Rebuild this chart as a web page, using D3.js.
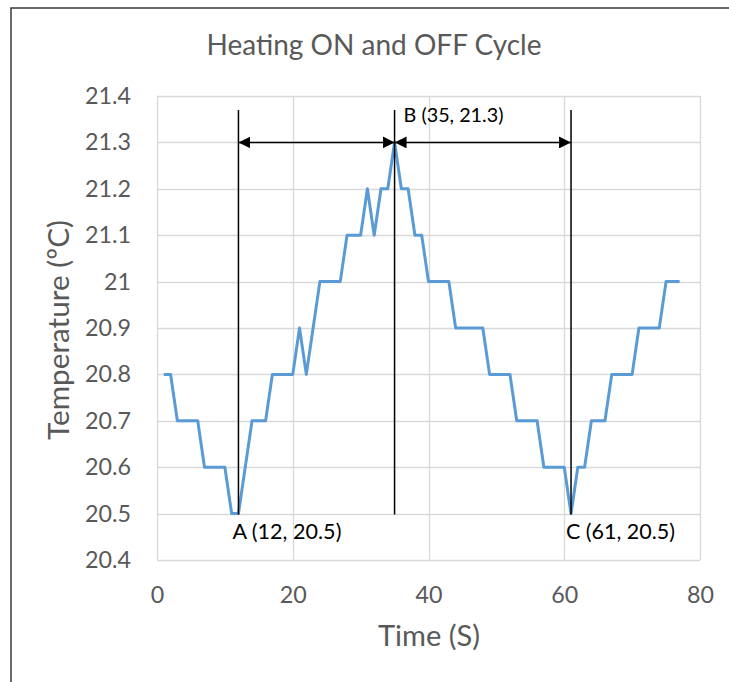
<!DOCTYPE html>
<html><head><meta charset="utf-8">
<script src="https://cdn.jsdelivr.net/npm/d3@7"></script>
<style>
html,body{margin:0;padding:0;background:#fff;}
svg{display:block;font-family:Lato,"Open Sans",sans-serif;}
</style></head>
<body>
<script>
const timeS = [1,2,3,4,5,6,7,8,9,10,11,12,13,14,15,16,17,18,19,20,21,22,23,24,25,26,27,28,29,30,31,32,33,34,35,36,37,38,39,40,41,42,43,44,45,46,47,48,49,50,51,52,53,54,55,56,57,58,59,60,61,62,63,64,65,66,67,68,69,70,71,72,73,74,75,76,77];
const tempC = [20.8,20.8,20.7,20.7,20.7,20.7,20.6,20.6,20.6,20.6,20.5,20.5,20.6,20.7,20.7,20.7,20.8,20.8,20.8,20.8,20.9,20.8,20.9,21.0,21.0,21.0,21.0,21.1,21.1,21.1,21.2,21.1,21.2,21.2,21.3,21.2,21.2,21.1,21.1,21.0,21.0,21.0,21.0,20.9,20.9,20.9,20.9,20.9,20.8,20.8,20.8,20.8,20.7,20.7,20.7,20.7,20.6,20.6,20.6,20.6,20.5,20.6,20.6,20.7,20.7,20.7,20.8,20.8,20.8,20.8,20.9,20.9,20.9,20.9,21.0,21.0,21.0];
const xTicks = [0,20,40,60,80];
const yTicks = [20.4,20.5,20.6,20.7,20.8,20.9,21.0,21.1,21.2,21.3,21.4];
const markerX = [12,35,61];
const markerLabels = ["A (12, 20.5)","B (35, 21.3)","C (61, 20.5)"];
const markerY = [20.5,21.3,20.5];

const W=729,H=682;
const svg=d3.select("body").append("svg").attr("width",W).attr("height",H);
// fit font size to a target width (layout helper)
function fit(sel,target){
  sel.attr("font-size",20);
  const w=sel.node().getComputedTextLength();
  sel.attr("font-size",(20*target/w).toFixed(2));
}
svg.append("path").attr("d",`M11,${H} V8 H${W}`).attr("fill","none").attr("stroke","#3a3a3a").attr("stroke-width",1.5);

const x=d3.scaleLinear().domain([0,80]).range([157,700]);
const y=d3.scaleLinear().domain([20.4,21.4]).range([560,96]);

const g=svg.append("g");
g.selectAll(".hg").data(yTicks).join("line")
 .attr("x1",x(0)).attr("x2",x(80)).attr("y1",d=>Math.round(y(d))+0.5).attr("y2",d=>Math.round(y(d))+0.5)
 .attr("stroke","#d9d9d9").attr("stroke-width",1.3);
g.selectAll(".vg").data(xTicks).join("line")
 .attr("y1",y(20.4)).attr("y2",y(21.4)).attr("x1",d=>Math.round(x(d))+0.5).attr("x2",d=>Math.round(x(d))+0.5)
 .attr("stroke","#d9d9d9").attr("stroke-width",1.3);

const ay=svg.append("g").attr("transform",`translate(${x(0)},0)`)
 .call(d3.axisLeft(y).tickValues(yTicks).tickSize(0).tickPadding(26).tickFormat(d=>d3.format("")(+d.toFixed(1))));
ay.select(".domain").remove();
ay.selectAll("text").attr("fill","#595959").attr("font-family","Lato");
const tick214=ay.selectAll("text").filter(d=>Math.abs(d-21.4)<1e-6);
fit(tick214,46);
const tfs=tick214.attr("font-size");
ay.selectAll("text").attr("font-size",tfs);
const ax=svg.append("g").attr("transform",`translate(0,${y(20.4)})`)
 .call(d3.axisBottom(x).tickValues(xTicks).tickSize(0).tickPadding(0).tickFormat(d3.format("d")));
ax.select(".domain").remove();
ax.selectAll("text").attr("fill","#595959").attr("font-family","Lato").attr("font-size",tfs)
 .attr("dy",null).attr("y",37).attr("dominant-baseline","middle");

const data=timeS.map((t,i)=>({t,v:tempC[i]}));
svg.append("path").datum(data).attr("fill","none").attr("stroke","#5B9BD5").attr("stroke-width",3)
 .attr("stroke-linejoin","round")
 .attr("d",d3.line().x(d=>x(d.t)).y(d=>y(d.v)));

const defs=svg.append("defs");
defs.append("marker").attr("id","ah").attr("viewBox","0 0 12 12").attr("refX",12).attr("refY",6)
 .attr("markerWidth",12).attr("markerHeight",12).attr("markerUnits","userSpaceOnUse").attr("orient","auto-start-reverse")
 .append("path").attr("d","M0,0 L12,6 L0,12 Z").attr("fill","#000");
const ann=svg.append("g");
ann.selectAll(".vl").data(markerX).join("line")
 .attr("x1",d=>x(d)).attr("x2",d=>x(d)).attr("y1",110).attr("y2",y(20.5)+1)
 .attr("stroke","#000").attr("stroke-width",1.5);
const arrY=y(21.3);
[[0,1],[1,2]].forEach(([a,b])=>{
 ann.append("line").attr("x1",x(markerX[a])).attr("x2",x(markerX[b])).attr("y1",arrY).attr("y2",arrY)
  .attr("stroke","#000").attr("stroke-width",1.5)
  .attr("marker-start","url(#ah)").attr("marker-end","url(#ah)");
});
const lblPos=[{dx:-6,dy:20,w:109},{dx:9,dy:-25,w:100},{dx:-5,dy:20,w:109}];
ann.selectAll(".lb").data(markerLabels).join("text")
 .attr("x",(d,i)=>x(markerX[i])+lblPos[i].dx).attr("y",(d,i)=>y(markerY[i])+lblPos[i].dy)
 .attr("dominant-baseline","middle").attr("fill","#000").text(d=>d)
 .each(function(d,i){fit(d3.select(this),lblPos[i].w);});

const t1=svg.append("text").attr("x",374).attr("y",48).attr("text-anchor","middle").attr("dominant-baseline","middle")
 .attr("fill","#595959").text("Heating ON and OFF Cycle");
fit(t1,335);
const t2=svg.append("text").attr("x",429).attr("y",639).attr("text-anchor","middle").attr("dominant-baseline","middle")
 .attr("fill","#595959").text("Time (S)");
fit(t2,102);
const t3=svg.append("text").attr("transform","translate(61,330) rotate(-90)").attr("text-anchor","middle").attr("dominant-baseline","middle")
 .attr("fill","#595959").text("Temperature (ºC)");
fit(t3,220);
</script>
</body></html>
